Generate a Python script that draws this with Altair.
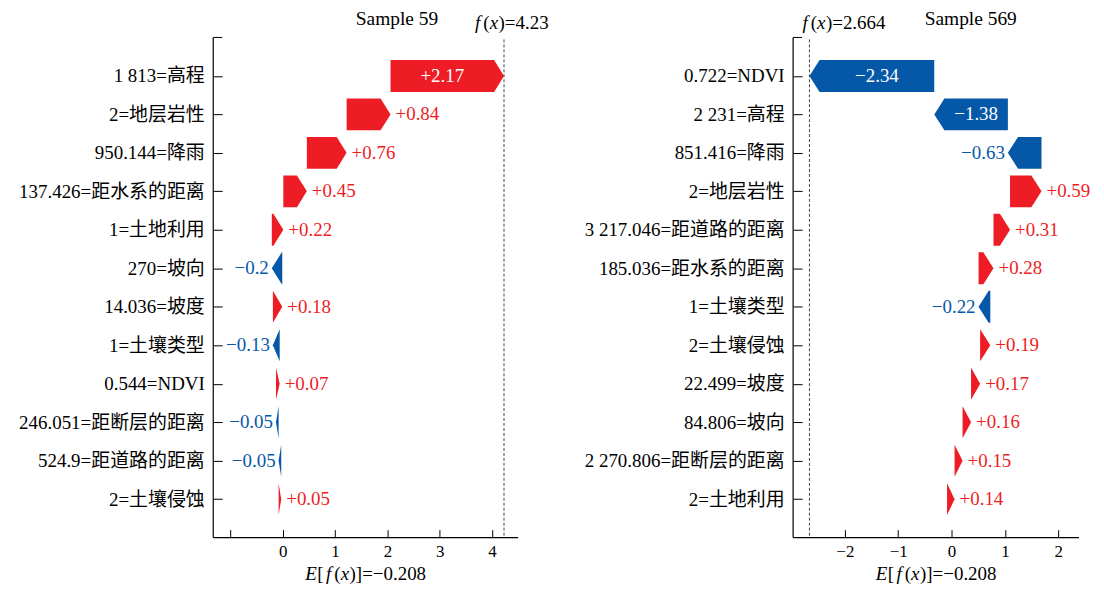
import json
import altair as alt
import pandas as pd

# ---------------- data ----------------
base_value = "−0.208"

left_title = "Sample 59"
left_labels = ["1 813=高程", "2=地层岩性", "950.144=降雨", "137.426=距水系的距离", "1=土地利用",
               "270=坡向", "14.036=坡度", "1=土壤类型", "0.544=NDVI", "246.051=距断层的距离",
               "524.9=距道路的距离", "2=土壤侵蚀"]
left_values = [2.17, 0.84, 0.76, 0.45, 0.22, -0.2, 0.18, -0.13, 0.07, -0.05, -0.05, 0.05]
left_fx = 4.23
left_fx_text = "4.23"
left_ticks = [-1, 0, 1, 2, 3, 4]

right_title = "Sample 569"
right_labels = ["0.722=NDVI", "2 231=高程", "851.416=降雨", "2=地层岩性", "3 217.046=距道路的距离",
                "185.036=距水系的距离", "1=土壤类型", "2=土壤侵蚀", "22.499=坡度", "84.806=坡向",
                "2 270.806=距断层的距离", "2=土地利用"]
right_values = [-2.34, -1.38, -0.63, 0.59, 0.31, 0.28, -0.22, 0.19, 0.17, 0.16, 0.15, 0.14]
right_fx = -2.664
right_fx_text = "2.664"
right_ticks = [-2, -1, 0, 1, 2]

# ---------------- style ----------------
RED = "#EE1C25"
BLUE = "#0557A8"
FONT = "Liberation Serif, Noto Sans CJK SC"
HEAD = 0.19      # arrow head length (data units)
HALF = 0.415     # half bar height (rows)
H = 502
FS = 19

# approximate Times advance widths (em)
REG = {"(": .333, ")": .333, "[": .333, "]": .333, "=": .564, "−": .564, ".": .25, "+": .564, " ": .25}
ITA = {"E": .611, "f": .278, "x": .444}


def wid(s, italic=False):
    tab = ITA if italic else REG
    return sum(tab.get(ch, .5) for ch in s) * FS


def rich(pieces):
    """pieces: list of (text, italic, extra_gap_after_px) -> list of (text, italic, offset), total"""
    out, off = [], 0.0
    for t, it, gap in pieces:
        out.append((t, it, off))
        off += wid(t, it) + gap
    return out, off


def fmt(v):
    return ("+" if v > 0 else "−") + f"{abs(v):g}"


def panel(labels, values, fx, fx_text, title, domain, ticks, width, title_x, fx_dx, hide_first):
    poly, txt = [], []
    c = fx
    for i, v in enumerate(values):
        tip, back = c, c - v
        sgn = 1 if v > 0 else -1
        head = min(abs(v), HEAD)
        tb = tip - sgn * head
        s = "pos" if v > 0 else "neg"
        pts = [(back, i - HALF), (tb, i - HALF), (tip, i), (tb, i + HALF), (back, i + HALF)]
        for k, (x, y) in enumerate(pts):
            poly.append(dict(row=i, k=k, x=x, y=y, sign=s))
        if abs(v) >= 1:
            kind, xt = "in", (back + tb) / 2
        else:
            kind, xt = ("pos" if v > 0 else "neg"), tip
        txt.append(dict(row=i, x=xt, y=i, sign=s, kind=kind, t=fmt(v)))
        c = back
    poly = pd.DataFrame(poly)
    txt = pd.DataFrame(txt)

    xscale = alt.Scale(domain=domain, nice=False, zero=False)
    yscale = alt.Scale(domain=[-1, 12], reverse=True, nice=False, zero=False)
    xaxis = alt.Axis(values=ticks, title=None, domain=False, offset=-8, tickSize=8,
                     grid=False, labelFont=FONT, labelFontSize=17, labelColor="black",
                     labelPadding=6, tickColor="black",
                     labelExpr=("datum.value == -1 ? '' : datum.label") if hide_first else "datum.label")
    yaxis = alt.Axis(values=list(range(12)), title=None, domain=False, offset=-9, tickSize=9,
                     grid=False, labelFont=FONT, labelFontSize=FS, labelColor="black",
                     labelPadding=9, tickColor="black", labelLimit=600,
                     labelExpr=json.dumps(labels, ensure_ascii=False) + "[datum.value]")
    color = alt.Color("sign:N", scale=alt.Scale(domain=["pos", "neg"], range=[RED, BLUE]), legend=None)

    bars = alt.Chart(poly).mark_line(filled=True, interpolate="linear-closed", strokeWidth=0).encode(
        x=alt.X("x:Q", scale=xscale, axis=xaxis),
        y=alt.Y("y:Q", scale=yscale, axis=yaxis),
        detail="row:N", order="k:Q", color=color)

    def tlayer(kind, align, dx, fixed=None):
        m = alt.Chart(txt).transform_filter(alt.datum.kind == kind).mark_text(
            align=align, baseline="middle", dx=dx, font=FONT, fontSize=FS)
        enc = dict(x=alt.X("x:Q", scale=xscale, axis=xaxis),
                   y=alt.Y("y:Q", scale=yscale, axis=yaxis), text="t:N")
        enc["color"] = alt.value(fixed) if fixed else color
        return m.encode(**enc)

    t_in = tlayer("in", "center", 0, "white")
    t_pos = tlayer("pos", "left", 5)
    t_neg = tlayer("neg", "right", -3)

    one = pd.DataFrame({"x": [fx], "title": [title]})
    dash = alt.Chart(one).mark_rule(strokeDash=[3, 2], color="#444", strokeWidth=1).encode(
        x=alt.X("x:Q", scale=xscale, axis=xaxis), y=alt.value(2), y2=alt.value(H))

    # f(x)=... annotation with italic f and x
    fx_pieces, _ = rich([("f", True, 3), ("(", False, 0), ("x", True, 0.5), (")=" + fx_text, False, 0)])
    fx_layers = []
    for t, it, off in fx_pieces:
        fx_layers.append(alt.Chart(one).mark_text(
            align="left", baseline="middle", dx=fx_dx + off, font=FONT, fontSize=FS,
            fontStyle="italic" if it else "normal", color="black", text=t).encode(
            x=alt.X("x:Q", scale=xscale, axis=xaxis), y=alt.value(-14)))

    # E[f(x)]=... axis title with italic E, f, x
    e_pieces, e_tot = rich([("E", True, 0.5), ("[", False, 2.5), ("f", True, 3), ("(", False, 0),
                            ("x", True, 0.5), (")]=" + base_value, False, 0)])
    e_layers = []
    for t, it, off in e_pieces:
        e_layers.append(alt.Chart(one).mark_text(
            align="left", baseline="middle", dx=off - e_tot / 2, font=FONT, fontSize=FS,
            fontStyle="italic" if it else "normal", color="black", text=t).encode(
            x=alt.value(width / 2), y=alt.value(H + 37)))

    ttl = alt.Chart(one).mark_text(align="left", baseline="middle", font=FONT,
                                   fontSize=19.5, color="black").encode(
        x=alt.value(title_x), y=alt.value(-18), text="title:N")
    vline = alt.Chart(one).mark_rule(color="black", strokeWidth=1.2).encode(
        x=alt.value(0), y=alt.value(0), y2=alt.value(H))
    hline = alt.Chart(one).mark_rule(color="black", strokeWidth=1.2).encode(
        x=alt.value(0), x2=alt.value(width), y=alt.value(H))
    toptick = alt.Chart(one).mark_rule(color="black", strokeWidth=1).encode(
        x=alt.value(0), x2=alt.value(9), y=alt.value(0))

    return alt.layer(bars, dash, t_in, t_pos, t_neg, *fx_layers, *e_layers, ttl,
                     vline, hline, toptick).properties(width=width, height=H)


left = panel(left_labels, left_values, left_fx, left_fx_text, left_title,
             [-1.33, 4.5], left_ticks, 306, 143, -29, True)
right = panel(right_labels, right_values, right_fx, right_fx_text, right_title,
              [-2.97, 2.39], right_ticks, 287, 132, -7, False)

chart = alt.hconcat(left, right, spacing=276, bounds="flush").properties(
    padding={"left": 10, "top": 0.5, "right": 5, "bottom": 0}
).configure_view(stroke=None)

chart.save("out.html", embed_options={"renderer": "svg", "actions": False})
